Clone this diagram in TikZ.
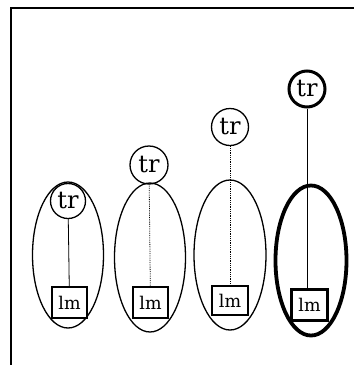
\documentclass[tikz,border=0pt]{standalone}
\usepackage{fontspec}
\setmainfont{DejaVu Serif}
\usetikzlibrary{shapes.geometric}
\begin{document}
\begin{tikzpicture}[x=1pt,y=-1pt,
  trnode/.style={circle,draw,line width=1.3pt,inner sep=0pt,font=\fontsize{24}{24}\selectfont},
  lmnode/.style={rectangle,draw,line width=1.3pt,inner sep=0pt,font=\fontsize{17.5}{17.5}\selectfont},
  group/.style={ellipse,draw,line width=1.3pt,inner sep=0pt},
  thick4/.style={line width=3pt},
  link/.style={line width=0.8pt}]
\useasboundingbox (0,0) rectangle (354,365);
\draw[line width=1.2pt] (11,365) -- (11,8) -- (354,8);
% group 1
\node[group,minimum width=71pt,minimum height=146pt] (e1) at (68,255) {};
\node[trnode,minimum size=35pt] (tr1) at (68,201) {tr};
\node[lmnode,minimum width=35pt,minimum height=31pt] (lm1) at (69.5,302.5) {lm};
\draw[link] (tr1) -- (lm1);
% group 2
\node[group,minimum width=71pt,minimum height=149pt] (e2) at (150,257.5) {};
\node[trnode,minimum size=38pt] (tr2) at (149,165) {tr};
\node[lmnode,minimum width=35pt,minimum height=31pt] (lm2) at (150.5,302.5) {lm};
\draw[link,densely dotted] (tr2) -- (lm2);
% group 3
\node[group,minimum width=72pt,minimum height=150pt] (e3) at (230,255) {};
\node[trnode,minimum size=37pt] (tr3) at (230,127) {tr};
\node[lmnode,minimum width=36pt,minimum height=29pt] (lm3) at (230,300.5) {lm};
\draw[link,densely dotted] (tr3) -- (lm3);
% group 4
\node[group,line width=3.8pt,minimum width=71pt,minimum height=150pt] (e4) at (311,260.5) {};
\node[trnode,thick4,minimum size=36pt] (tr4) at (307,89) {tr};
\node[lmnode,thick4,minimum width=36pt,minimum height=31pt] (lm4) at (309.5,305) {lm};
\draw[link] (tr4.south) -- (tr4.south |- lm4.north);
\end{tikzpicture}
\end{document}
